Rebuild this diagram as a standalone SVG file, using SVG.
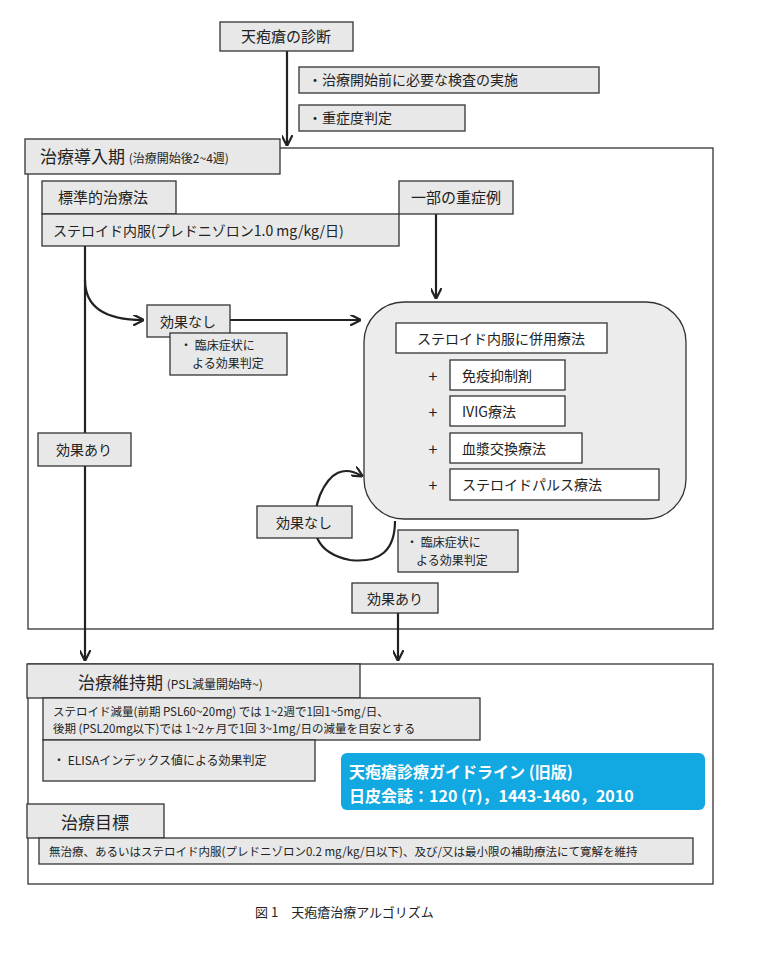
<svg xmlns="http://www.w3.org/2000/svg" width="775" height="980" viewBox="0 0 775 980">
<defs>
<style>
text{font-family:"Noto Sans CJK JP","Liberation Sans",sans-serif;fill:#222}
.b{fill:#e8e8e8;stroke:#333;stroke-width:1.3}
.w{fill:#fff;stroke:#333;stroke-width:1.3}
.f{fill:none;stroke:#333;stroke-width:1.3}
.c{fill:none;stroke:#222;stroke-width:2.2}
</style>
<marker id="a" viewBox="0 0 10 10" refX="9" refY="5" markerWidth="5" markerHeight="5" orient="auto"><path d="M0,0 L10,5 L0,10" fill="none" stroke="#222" stroke-width="2"/></marker>
</defs>
<rect width="775" height="980" fill="#fff"/>
<rect class="f" x="28" y="148" width="685" height="481"/>
<rect class="f" x="28" y="664" width="685" height="220"/>
<g id="connectors">
<path class="c" d="M287,51 V145" marker-end="url(#a)"/>
<path class="c" d="M436,214 V298" marker-end="url(#a)"/>
<path class="c" d="M85,246 V660" marker-end="url(#a)"/>
<path class="c" d="M85,280 Q85,320 143,320" marker-end="url(#a)"/>
<path class="c" d="M230,320 H360" marker-end="url(#a)"/>
<path class="c" d="M395,521 Q395,565 350,560 Q300,550 320,495 Q335,460 362,476" marker-end="url(#a)"/>
<path class="c" d="M398,613 V660" marker-end="url(#a)"/>
</g>
<g id="diag"><rect class="b" x="220" y="22" width="133" height="29"/><text x="286" y="42" font-size="15" text-anchor="middle">天疱瘡の診断</text></g>
<g id="exam"><rect class="b" x="299" y="67" width="300" height="26"/><text x="308" y="85" font-size="14">・治療開始前に必要な検査の実施</text></g>
<g id="sev"><rect class="b" x="299" y="105" width="166" height="26"/><text x="308" y="123" font-size="14">・重症度判定</text></g>
<g id="phase1"><rect class="b" x="25" y="139" width="255" height="35"/><text x="40" y="163" font-size="17">治療導入期 <tspan font-size="12">(治療開始後2~4週)</tspan></text></g>
<g id="std"><rect class="b" x="42" y="181" width="134" height="33"/><text x="58" y="203" font-size="15">標準的治療法</text></g>
<g id="ster"><rect class="b" x="42" y="214" width="357" height="32"/><text x="53" y="236" font-size="14">ステロイド内服(プレドニゾロン1.0 mg/kg/日)</text></g>
<g id="severe"><rect class="b" x="399" y="181" width="114" height="33"/><text x="456" y="203" font-size="15" text-anchor="middle">一部の重症例</text></g>
<g id="combo"><rect x="364" y="302" width="322" height="217" rx="40" fill="#ececec" stroke="#333" stroke-width="1.3"/>
<rect class="w" x="396" y="323" width="211" height="30"/><text x="501" y="344" font-size="14" text-anchor="middle">ステロイド内服に併用療法</text>
<text x="433" y="382" font-size="16" text-anchor="middle">+</text><rect class="w" x="450" y="360" width="115" height="30"/><text x="462" y="381" font-size="14">免疫抑制剤</text>
<text x="433" y="418" font-size="16" text-anchor="middle">+</text><rect class="w" x="450" y="396" width="115" height="30"/><text x="462" y="417" font-size="14">IVIG療法</text>
<text x="433" y="455" font-size="16" text-anchor="middle">+</text><rect class="w" x="450" y="433" width="132" height="30"/><text x="462" y="454" font-size="14">血漿交換療法</text>
<text x="433" y="491" font-size="16" text-anchor="middle">+</text><rect class="w" x="450" y="469" width="209" height="31"/><text x="462" y="490" font-size="14">ステロイドパルス療法</text></g>
<g id="nf1"><rect class="b" x="147" y="305" width="83" height="32"/><text x="188" y="327" font-size="14" text-anchor="middle">効果なし</text></g>
<g id="cl1"><rect class="b" x="170" y="333" width="117" height="42"/><text x="180" y="350" font-size="12">・ 臨床症状に</text><text x="192" y="368" font-size="12">よる効果判定</text></g>
<g id="ef1"><rect class="b" x="38" y="433" width="93" height="33"/><text x="84" y="455" font-size="14" text-anchor="middle">効果あり</text></g>
<g id="nf2"><rect class="b" x="257" y="506" width="95" height="32"/><text x="304" y="528" font-size="14" text-anchor="middle">効果なし</text></g>
<g id="cl2"><rect class="b" x="398" y="530" width="120" height="42"/><text x="406" y="547" font-size="12">・ 臨床症状に</text><text x="416" y="565" font-size="12">よる効果判定</text></g>
<g id="ef2"><rect class="b" x="352" y="583" width="86" height="30"/><text x="395" y="604" font-size="14" text-anchor="middle">効果あり</text></g>
<g id="phase2"><rect class="b" x="27" y="664" width="333" height="34"/><text x="78" y="689" font-size="17">治療維持期 <tspan font-size="12">(PSL減量開始時~)</tspan></text></g>
<g id="red"><rect class="b" x="43" y="698" width="437" height="42"/><text x="53" y="716" font-size="11.5">ステロイド減量(前期 PSL60~20mg) では 1~2週で1回1~5mg/日、</text><text x="53" y="733" font-size="11.5">後期 (PSL20mg以下)では 1~2ヶ月で1回 3~1mg/日の減量を目安とする</text></g>
<g id="elisa"><rect class="b" x="43" y="740" width="272" height="41"/><text x="53" y="765" font-size="12">・ ELISAインデックス値による効果判定</text></g>
<g id="ref"><rect x="341" y="753" width="364" height="57" rx="6" fill="#12a8e2"/><text x="349" y="778" font-size="16" font-weight="bold" style="fill:#fff">天疱瘡診療ガイドライン (旧版)</text><text x="349" y="802" font-size="16" font-weight="bold" style="fill:#fff">日皮会誌：120 (7)，1443-1460，2010</text></g>
<g id="goal"><rect class="b" x="27" y="804" width="137" height="34"/><text x="95" y="829" font-size="17" text-anchor="middle">治療目標</text></g>
<g id="goaltext"><rect class="b" x="39" y="838" width="654" height="26"/><text x="49" y="856" font-size="11.5">無治療、あるいはステロイド内服(プレドニゾロン0.2 mg/kg/日以下)、及び/又は最小限の補助療法にて寛解を維持</text></g>
<text x="255" y="917" font-size="13">図 1　天疱瘡治療アルゴリズム</text>
</svg>
